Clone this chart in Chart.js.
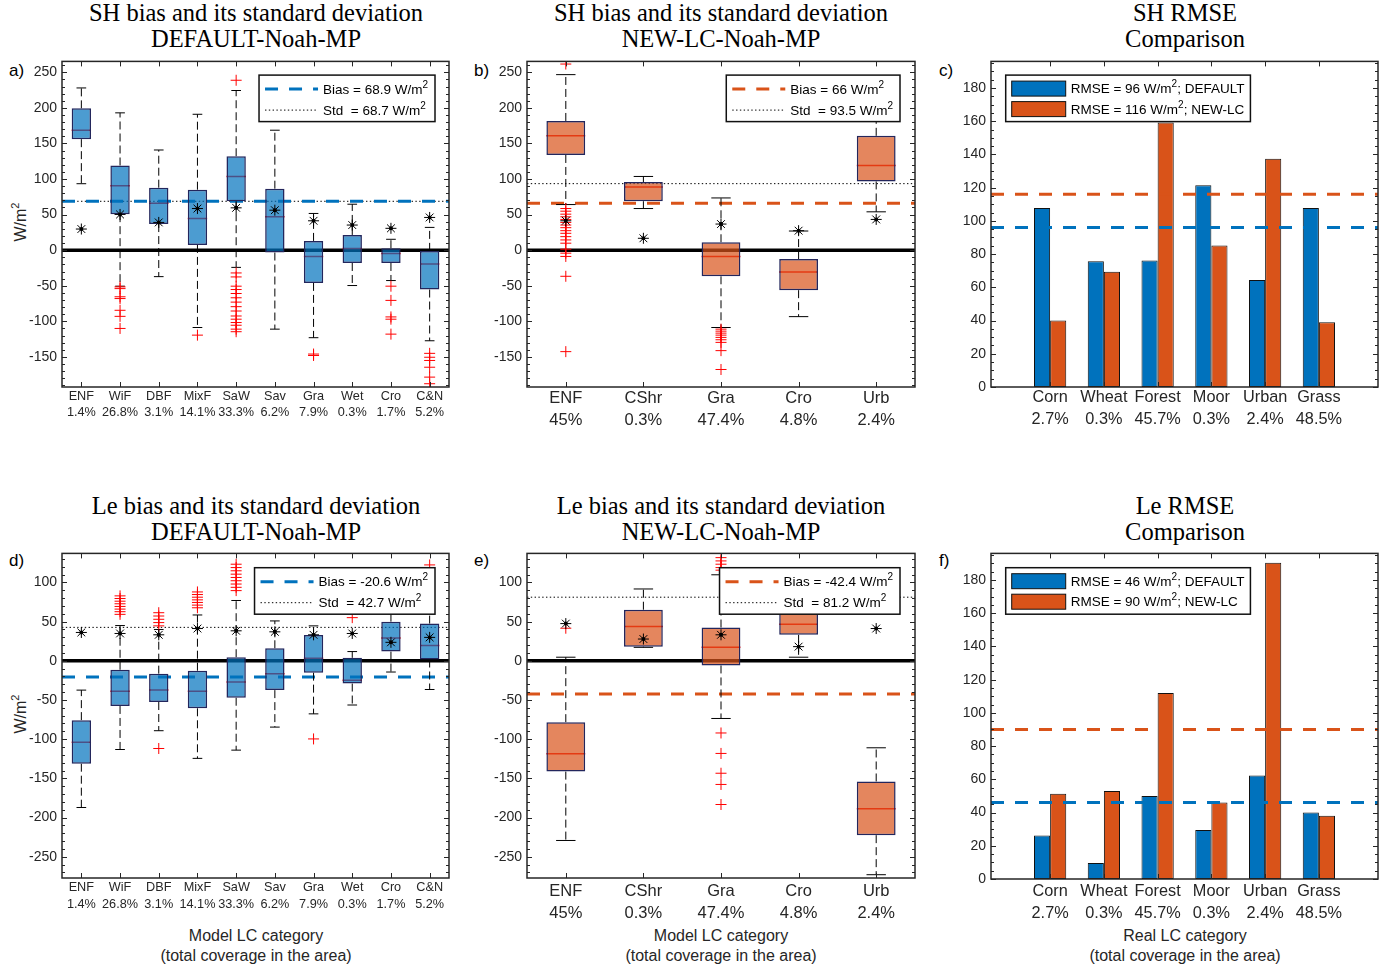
<!DOCTYPE html>
<html lang="en">
<head>
<meta charset="utf-8">
<title>SH and Le bias, standard deviation and RMSE by land-cover class</title>
<script src="https://cdn.jsdelivr.net/npm/chart.js@4.4.1/dist/chart.umd.min.js"></script>
<style>
  html, body { margin: 0; padding: 0; background: #fff; }
  #fig { position: relative; width: 1386px; height: 971px; overflow: hidden;
         font-family: 'Liberation Sans', Arial, sans-serif; }
  #fig canvas { position: absolute; }
  .ttl { position: absolute; width: 460px; margin-left: -230px; text-align: center;
         font-family: 'Liberation Serif', 'Times New Roman', serif; font-size: 24.5px;
         line-height: 26px; color: #000; white-space: nowrap; }
  .tag { position: absolute; font-size: 17px; line-height: 20px; color: #000; }
  .xlab { position: absolute; width: 320px; margin-left: -160px; text-align: center;
          font-size: 16px; line-height: 20px; color: #262626; }
  .ylab { position: absolute; font-size: 16px; line-height: 20px; color: #262626;
          white-space: nowrap; transform: translate(-50%, -50%) rotate(-90deg); }
  .ylab sup { font-size: 11px; }
</style>
</head>
<body>
<div id="fig">
  <div class="ttl" style="left:256px;top:0px">SH bias and its standard deviation<br>DEFAULT-Noah-MP</div>
  <div class="ttl" style="left:721px;top:0px">SH bias and its standard deviation<br>NEW-LC-Noah-MP</div>
  <div class="ttl" style="left:1185px;top:0px">SH RMSE<br>Comparison</div>
  <div class="ttl" style="left:256px;top:493px">Le bias and its standard deviation<br>DEFAULT-Noah-MP</div>
  <div class="ttl" style="left:721px;top:493px">Le bias and its standard deviation<br>NEW-LC-Noah-MP</div>
  <div class="ttl" style="left:1185px;top:493px">Le RMSE<br>Comparison</div>

  <div class="tag" style="left:9px;top:61px">a)</div>
  <div class="tag" style="left:474px;top:61px">b)</div>
  <div class="tag" style="left:939px;top:61px">c)</div>
  <div class="tag" style="left:9px;top:551px">d)</div>
  <div class="tag" style="left:474px;top:551px">e)</div>
  <div class="tag" style="left:939px;top:551px">f)</div>

  <div class="ylab" style="left:18px;top:222px">W/m<sup>2</sup></div>
  <div class="ylab" style="left:18px;top:714px">W/m<sup>2</sup></div>

  <div class="xlab" style="left:256px;top:926px">Model LC category<br>(total coverage in the area)</div>
  <div class="xlab" style="left:721px;top:926px">Model LC category<br>(total coverage in the area)</div>
  <div class="xlab" style="left:1185px;top:926px">Real LC category<br>(total coverage in the area)</div>

  <canvas id="cA"></canvas>
  <canvas id="cB"></canvas>
  <canvas id="cC"></canvas>
  <canvas id="cD"></canvas>
  <canvas id="cE"></canvas>
  <canvas id="cF"></canvas>
</div>

<script>
// ---------------- categories ----------------
const modelCats  = ['ENF', 'WiF', 'DBF', 'MixF', 'SaW', 'Sav', 'Gra', 'Wet', 'Cro', 'C&N'];
const modelCover = ['1.4%', '26.8%', '3.1%', '14.1%', '33.3%', '6.2%', '7.9%', '0.3%', '1.7%', '5.2%'];
const newCats    = ['ENF', 'CShr', 'Gra', 'Cro', 'Urb'];
const newCover   = ['45%', '0.3%', '47.4%', '4.8%', '2.4%'];
const realCats   = ['Corn', 'Wheat', 'Forest', 'Moor', 'Urban', 'Grass'];
const realCover  = ['2.7%', '0.3%', '45.7%', '0.3%', '2.4%', '48.5%'];

// ---------------- tick labels ----------------
const shTicks   = [-150, -100, -50, 0, 50, 100, 150, 200, 250];
const leTicks   = [-250, -200, -150, -100, -50, 0, 50, 100];
const rmseTicks = [0, 20, 40, 60, 80, 100, 120, 140, 160, 180];

// ---------------- SH bias, DEFAULT land cover (W/m2) ----------------
const shDefQ1  = [156, 50.6, 36.7, 7.4, 68.8, -3.3, -46, -18, -18, -55.3];
const shDefMed = [168.6, 90.6, 66, 44.6, 103.6, 47, -8.8, 2.3, -4.6, -19.5];
const shDefQ3  = [199.3, 119, 87.8, 85, 132, 86.4, 13, 21.4, 2.8, -1];
const shDefLo  = [93.4, -50.6, -37.2, -108.7, -24.2, -111, -123, -49.7, -42.7, -127.3];
const shDefHi  = [228, 193, 140.8, 191, 224.4, 168.6, 51.6, 64.6, 15.3, 32];
const shDefStd = [29.7, 50.2, 39, 58.5, 59.5, 56.2, 41.3, 35.3, 30.7, 46];
const shDefOut = [
  [],
  [-51.6, -54, -65.5, -68, -84.5, -93, -110],
  [],
  [-119.4],
  [238.8, -32, -37.6, -50.6, -55.3, -60.9, -66.9, -73, -79.4, -85.5, -92.5, -97, -101.7, -105.5, -111, -114.6],
  [],
  [-146, -148],
  [],
  [-50.6, -70.6, -93.8, -97, -118],
  [-145, -150.5, -155, -164.5, -178.4, -187.7]
];
const shDefBias = 68.9, shDefSd = 68.7;

// ---------------- SH bias, NEW land cover (W/m2) ----------------
const shNewQ1  = [133.8, 68.8, -36.7, -56.2, 96.6];
const shNewMed = [160.7, 88.7, -8.8, -30.7, 118.9];
const shNewQ3  = [181.6, 95.7, 11.1, -12.5, 160.7];
const shNewLo  = [64.1, 58.5, -108.7, -93.4, 53.9];
const shNewHi  = [246.7, 103.6, 73.4, 26.9, 185];
const shNewStd = [41.3, 16.7, 36.7, 27.4, 43.2];
const shNewOut = [
  [261.6, 58.5, 54.8, 50.6, 46.9, 43.2, 39, 35.3, 31.6, 27.4, 23.7, 19, 14.4, 9.8, 1.4, -4.2, -8.8, -36.7, -142.6],
  [],
  [-111, -113.8, -116.6, -119.4, -122.6, -125.9, -129.6, -141.2, -167.7],
  [],
  []
];
const shNewBias = 66, shNewSd = 93.5;

// ---------------- Le bias, DEFAULT land cover (W/m2) ----------------
const leDefQ1  = [-131.3, -57.6, -52.6, -60.6, -47.1, -37.4, -15.1, -29, 11.8, 1.7];
const leDefMed = [-103.9, -38.7, -37.4, -38.7, -26.9, -16.4, 3.4, -24.8, 29, 19.4];
const leDefQ3  = [-75.7, -11.4, -16.4, -12.6, 4.6, 16, 32.8, 3.8, 50, 47.5];
const leDefLo  = [-187.2, -113.2, -89.2, -124.5, -114, -84.6, -67.7, -56.4, -14.3, -36.6];
const leDefHi  = [-37.4, 45, 40, 58.5, 77, 50.9, 44.6, 11.8, 70, 75];
const leDefStd = [36.2, 34.9, 33.2, 41.2, 38.3, 37, 33.2, 34.9, 23.6, 29.9];
const leDefOut = [
  [],
  [82.9, 79.5, 76.1, 72.8, 69.4, 66, 62.7, 59.3],
  [61.4, 57.2, 53, 48.8, 44.6, -111.9],
  [87.9, 84.6, 81.2, 77.8, 74.5, 71.1, 67.7],
  [123.3, 119, 114.9, 110.6, 106.4, 102.2, 98, 93.8, 89.6],
  [],
  [-99.7],
  [55.1],
  [],
  [122.4]
];
const leDefBias = -20.6, leDefSd = 42.7;

// ---------------- Le bias, NEW land cover (W/m2) ----------------
const leNewQ1  = [-141.4, 18.1, -5.9, 33.2, -222.5];
const leNewMed = [-118.6, 43.8, 17.2, 46.7, -188.9];
const leNewQ3  = [-78.3, 65.2, 42.5, 64, -154];
const leNewLo  = [-229.3, 17.2, -73.6, 4.6, -273];
const leNewHi  = [4.6, 91.7, 109.8, 85, -111];
const leNewStd = [47.5, 27.8, 33.2, 18.1, 41.2];
const leNewOut = [
  [41.6],
  [],
  [131.7, 127.5, 123.3, 119, 115.7, -92.1, -118.2, -143.5, -157.8, -183.4],
  [],
  []
];
const leNewBias = -42.4, leNewSd = 81.2;

// ---------------- RMSE per real land-cover class (W/m2) ----------------
const rmseShDefault = [107.7, 75.7, 76.1, 121.5, 64.4, 107.7];
const rmseShNew     = [40, 69.4, 159.2, 85.2, 137.4, 39];
const rmseLeDefault = [26.2, 9.7, 50, 29.5, 62.3, 40];
const rmseLeNew     = [51.3, 52.9, 112, 46, 190.3, 38];
const rmseShTotal   = { def: 96, nw: 116 };
const rmseLeTotal   = { def: 46, nw: 90 };

// ---------------- styling ----------------
const FONT = 'Liberation Sans';
const INK = '#262626';
const BLUE = '#0072BD', ORANGE = '#D95319';
const BLUE_BOX = 'rgba(0,114,189,0.7)', ORANGE_BOX = 'rgba(217,83,25,0.7)';
const BOX_EDGE = '#23265c';
const BIAS_DASH = [13, 11];
const STD_DASH = [1.4, 2.4];
const WHISKER_DASH = [8, 4];
const LEG_FONT = '13.5px ' + FONT;
const SUP_FONT = '10px ' + FONT;

Chart.defaults.font.family = FONT;

function spacing(chart) {
  const x = chart.scales.x;
  return x.getPixelForValue(2) - x.getPixelForValue(1);
}

function hLine(y, xr, color, width, dash, order) {
  return { type: 'line', data: [{ x: xr[0], y }, { x: xr[1], y }], borderColor: color,
           borderWidth: width, borderDash: dash, pointRadius: 0, fill: false, order };
}

// box-and-whisker plot built from quartiles, whisker ends, outliers and per-class std
function boxSets(st, xr) {
  const pos = st.q1.map((_, i) => i + 1);
  const whisk = [], caps = [], outs = [];
  pos.forEach((x, i) => {
    whisk.push({ x, y: st.q3[i] }, { x, y: st.hi[i] }, { x, y: null },
               { x, y: st.q1[i] }, { x, y: st.lo[i] }, { x, y: null });
    caps.push({ x, y: st.lo[i] }, { x, y: st.hi[i] });
  });
  st.out.forEach((list, i) => list.forEach(y => outs.push({ x: i + 1, y })));
  const sd = pos.map((x, i) => ({ x, y: st.sd[i] }));
  return [
    hLine(0, xr, '#000', 3.5, [], 30),
    hLine(st.sdAll, xr, '#000', 1, STD_DASH, 29),
    hLine(st.bias, xr, st.color, 3, BIAS_DASH, 28),
    { type: 'line', data: whisk, borderColor: '#000', borderWidth: 1, borderDash: WHISKER_DASH,
      pointRadius: 0, spanGaps: false, order: 20 },
    { type: 'line', data: caps, showLine: false, pointStyle: 'line',
      pointRadius: c => spacing(c.chart) * 0.125, pointBorderColor: '#000', pointBorderWidth: 1, order: 19 },
    { type: 'line', data: pos.map((x, i) => ({ x, y: st.med[i] })), showLine: false, pointStyle: 'line',
      pointRadius: c => spacing(c.chart) * 0.25, pointBorderColor: '#ff0000', pointBorderWidth: 1.5, order: 18 },
    { type: 'bar', data: pos.map((x, i) => ({ x, y: [st.q1[i], st.q3[i]] })), backgroundColor: st.fill,
      borderColor: BOX_EDGE, borderWidth: 1.5, borderSkipped: false, barPercentage: 0.5,
      categoryPercentage: 1, order: 10 },
    { type: 'line', data: outs, showLine: false, pointStyle: 'cross', pointRadius: 5.5,
      pointBorderColor: '#ff0000', pointBorderWidth: 1, order: 5 },
    { type: 'line', data: sd, showLine: false, pointStyle: 'star', pointRadius: 5.5,
      pointBorderColor: '#000', pointBorderWidth: 1, order: 2 },
    { type: 'line', data: sd, showLine: false, pointStyle: 'circle', pointRadius: 2,
      pointBackgroundColor: '#000', pointBorderWidth: 0, order: 1 }
  ];
}

// grouped RMSE bars with the overall RMSE as dashed reference lines
function rmseSets(def, nw, total, xr) {
  const bar = (vals, color) => ({
    type: 'bar', data: vals.map((y, i) => ({ x: i + 1, y })), backgroundColor: color,
    borderColor: '#111', borderWidth: 1, borderSkipped: false, barPercentage: 1,
    categoryPercentage: 0.6, order: 10 });
  return [bar(def, BLUE), bar(nw, ORANGE),
          hLine(total.nw, xr, ORANGE, 3, BIAS_DASH, 2),
          hLine(total.def, xr, BLUE, 3, BIAS_DASH, 1)];
}

// framed axes with inward major/minor ticks on all four sides
function framePlugin(yMinor) {
  return {
    id: 'axesFrame',
    afterDraw(chart) {
      const { ctx, chartArea: a, scales: { x, y } } = chart;
      const line = (x0, y0, x1, y1) => { ctx.beginPath(); ctx.moveTo(x0, y0); ctx.lineTo(x1, y1); ctx.stroke(); };
      ctx.save();
      ctx.strokeStyle = INK;
      ctx.lineWidth = 1;
      const yt = y.ticks.map(t => t.value);
      const step = yt[1] - yt[0];
      const mstep = step / yMinor;
      const k0 = Math.ceil((y.min - yt[0]) / mstep - 1e-9);
      const k1 = Math.floor((y.max - yt[0]) / mstep + 1e-9);
      for (let k = k0; k <= k1; k++) {
        const v = yt[0] + k * mstep;
        const p = Math.round(y.getPixelForValue(v)) + 0.5;
        const len = (k % yMinor === 0) ? 5 : 3;
        line(a.left, p, a.left + len, p);
        line(a.right, p, a.right - len, p);
      }
      x.ticks.forEach(t => {
        const p = Math.round(x.getPixelForValue(t.value)) + 0.5;
        line(p, a.bottom, p, a.bottom - 5);
        line(p, a.top, p, a.top + 5);
      });
      ctx.lineWidth = 1.5;
      ctx.strokeRect(a.left, a.top, a.right - a.left, a.bottom - a.top);
      ctx.restore();
    }
  };
}

// legend text with a raised "2" for the unit exponent
function richParts(text) {
  const parts = [];
  text.split('\u00B2').forEach((seg, i) => {
    if (i > 0) parts.push({ t: '2', sup: true });
    if (seg) parts.push({ t: seg, sup: false });
  });
  return parts;
}
function richWidth(ctx, text) {
  let w = 0;
  richParts(text).forEach(p => { ctx.font = p.sup ? SUP_FONT : LEG_FONT; w += ctx.measureText(p.t).width; });
  return w;
}
function richDraw(ctx, text, x, y) {
  richParts(text).forEach(p => {
    ctx.font = p.sup ? SUP_FONT : LEG_FONT;
    ctx.fillText(p.t, x, p.sup ? y - 5 : y);
    x += ctx.measureText(p.t).width;
  });
}

// boxed legend drawn inside the plot area
function legendPlugin(lg) {
  return {
    id: 'insetLegend',
    afterDatasetsDraw(chart) {
      const { ctx, chartArea: a } = chart;
      ctx.save();
      const tw = Math.max(...lg.items.map(it => richWidth(ctx, it.text)));
      const w = lg.padL + lg.sampleW + lg.gap + tw + lg.padR;
      const x0 = lg.anchor === 'right' ? a.right - lg.inset[0] - w : a.left + lg.inset[0];
      const y0 = a.top + lg.inset[1];
      ctx.fillStyle = '#fff';
      ctx.fillRect(x0, y0, w, lg.height);
      ctx.strokeStyle = '#111';
      ctx.lineWidth = 1.5;
      ctx.strokeRect(x0, y0, w, lg.height);
      lg.items.forEach((it, i) => {
        const cy = y0 + lg.rows[i];
        const sx = x0 + lg.padL;
        if (it.kind === 'patch') {
          ctx.fillStyle = it.color;
          ctx.fillRect(sx, cy - 7.5, lg.sampleW, 15);
          ctx.strokeStyle = '#111';
          ctx.lineWidth = 1;
          ctx.strokeRect(sx, cy - 7.5, lg.sampleW, 15);
        } else {
          ctx.strokeStyle = it.color;
          ctx.lineWidth = it.width;
          ctx.setLineDash(it.dash);
          ctx.beginPath();
          ctx.moveTo(sx, cy);
          ctx.lineTo(sx + lg.sampleW, cy);
          ctx.stroke();
          ctx.setLineDash([]);
        }
        ctx.fillStyle = '#000';
        ctx.textBaseline = 'middle';
        ctx.textAlign = 'left';
        richDraw(ctx, it.text, sx + lg.sampleW + lg.gap, cy + 1);
      });
      ctx.restore();
    }
  };
}

function biasLegend(bias, sd, color, inset) {
  return {
    anchor: 'right', inset, height: 46.5, rows: [14, 35], padL: 6, sampleW: 53, gap: 5, padR: 7,
    items: [
      { kind: 'line', color, width: 3, dash: BIAS_DASH, text: 'Bias = ' + bias + ' W/m\u00B2' },
      { kind: 'line', color: '#000', width: 1, dash: STD_DASH, text: 'Std  = ' + sd + ' W/m\u00B2' }
    ]
  };
}

function rmseLegend(total, inset) {
  return {
    anchor: 'left', inset, height: 46.5, rows: [13.5, 34], padL: 6, sampleW: 54, gap: 5, padR: 6,
    items: [
      { kind: 'patch', color: BLUE, text: 'RMSE = ' + total.def + ' W/m\u00B2; DEFAULT' },
      { kind: 'patch', color: ORANGE, text: 'RMSE = ' + total.nw + ' W/m\u00B2; NEW-LC' }
    ]
  };
}

function makeChart(id, rect, cfg) {
  const [L, T, R, B] = rect;
  const cv = document.getElementById(id);
  cv.width = R - L + 72;
  cv.height = B - T + 60;
  cv.style.left = (L - 62) + 'px';
  cv.style.top = (T - 10) + 'px';
  cv.style.width = cv.width + 'px';
  cv.style.height = cv.height + 'px';
  return new Chart(cv, {
    type: 'bar',
    data: { datasets: cfg.datasets },
    options: {
      responsive: false,
      animation: false,
      events: [],
      layout: { padding: { left: 12, right: 10, top: 10, bottom: 5 } },
      plugins: { legend: { display: false }, tooltip: { enabled: false }, title: { display: false } },
      scales: {
        x: {
          type: 'linear', min: cfg.xr[0], max: cfg.xr[1], offset: false,
          grid: { display: false, drawTicks: false }, border: { display: false },
          afterBuildTicks: s => { s.ticks = cfg.cats.map((_, i) => ({ value: i + 1 })); },
          afterFit: s => { s.height = 45; },
          ticks: {
            autoSkip: false, maxRotation: 0, minRotation: 0, padding: cfg.xPad, color: INK,
            font: { family: FONT, size: cfg.xFont, lineHeight: cfg.xLine },
            callback: v => [cfg.cats[v - 1], cfg.cover[v - 1]]
          }
        },
        y: {
          type: 'linear', min: cfg.yr[0], max: cfg.yr[1],
          grid: { display: false, drawTicks: false }, border: { display: false },
          afterBuildTicks: s => { s.ticks = cfg.yTicks.map(v => ({ value: v })); },
          afterFit: s => { s.width = 50; },
          ticks: { padding: 5, color: INK, font: { family: FONT, size: 14 }, callback: v => String(v) }
        }
      }
    },
    plugins: [legendPlugin(cfg.legend), framePlugin(cfg.yMinor)]
  });
}

const shRange = [-192.3, 265.3];
const leRange = [-277.2, 137.1];
const rmseRange = [0, 196];
const xrModel = [0.5, modelCats.length + 0.5];
const xrNew = [0.5, newCats.length + 0.5];
const xrReal = [-0.1, 7.1];

makeChart('cA', [62, 58, 449, 387], {
  cats: modelCats, cover: modelCover, xr: xrModel, yr: shRange, yTicks: shTicks, yMinor: 5,
  xFont: 12.7, xLine: 1.27, xPad: 1,
  legend: biasLegend(shDefBias, shDefSd, BLUE, [14, 13.7]),
  datasets: boxSets({ q1: shDefQ1, med: shDefMed, q3: shDefQ3, lo: shDefLo, hi: shDefHi, sd: shDefStd,
                      out: shDefOut, bias: shDefBias, sdAll: shDefSd, color: BLUE, fill: BLUE_BOX }, xrModel)
});

makeChart('cB', [527, 58, 915, 387], {
  cats: newCats, cover: newCover, xr: xrNew, yr: shRange, yTicks: shTicks, yMinor: 5,
  xFont: 16.5, xLine: 1.333, xPad: 0,
  legend: biasLegend(shNewBias, shNewSd, ORANGE, [15, 13.7]),
  datasets: boxSets({ q1: shNewQ1, med: shNewMed, q3: shNewQ3, lo: shNewLo, hi: shNewHi, sd: shNewStd,
                      out: shNewOut, bias: shNewBias, sdAll: shNewSd, color: ORANGE, fill: ORANGE_BOX }, xrNew)
});

makeChart('cC', [991, 58, 1378, 387], {
  cats: realCats, cover: realCover, xr: xrReal, yr: rmseRange, yTicks: rmseTicks, yMinor: 4,
  xFont: 16.3, xLine: 1.35, xPad: 0,
  legend: rmseLegend(rmseShTotal, [14.7, 13.7]),
  datasets: rmseSets(rmseShDefault, rmseShNew, rmseShTotal, xrReal)
});

makeChart('cD', [62, 550, 449, 878], {
  cats: modelCats, cover: modelCover, xr: xrModel, yr: leRange, yTicks: leTicks, yMinor: 5,
  xFont: 12.7, xLine: 1.34, xPad: 1,
  legend: biasLegend(leDefBias, leDefSd, BLUE, [14, 14.3]),
  datasets: boxSets({ q1: leDefQ1, med: leDefMed, q3: leDefQ3, lo: leDefLo, hi: leDefHi, sd: leDefStd,
                      out: leDefOut, bias: leDefBias, sdAll: leDefSd, color: BLUE, fill: BLUE_BOX }, xrModel)
});

makeChart('cE', [527, 550, 915, 878], {
  cats: newCats, cover: newCover, xr: xrNew, yr: leRange, yTicks: leTicks, yMinor: 5,
  xFont: 16.5, xLine: 1.333, xPad: 2,
  legend: biasLegend(leNewBias, leNewSd, ORANGE, [15, 14.3]),
  datasets: boxSets({ q1: leNewQ1, med: leNewMed, q3: leNewQ3, lo: leNewLo, hi: leNewHi, sd: leNewStd,
                      out: leNewOut, bias: leNewBias, sdAll: leNewSd, color: ORANGE, fill: ORANGE_BOX }, xrNew)
});

makeChart('cF', [991, 550, 1378, 879], {
  cats: realCats, cover: realCover, xr: xrReal, yr: rmseRange, yTicks: rmseTicks, yMinor: 4,
  xFont: 16.3, xLine: 1.35, xPad: 1.5,
  legend: rmseLegend(rmseLeTotal, [14.7, 14.3]),
  datasets: rmseSets(rmseLeDefault, rmseLeNew, rmseLeTotal, xrReal)
});
</script>
</body>
</html>
